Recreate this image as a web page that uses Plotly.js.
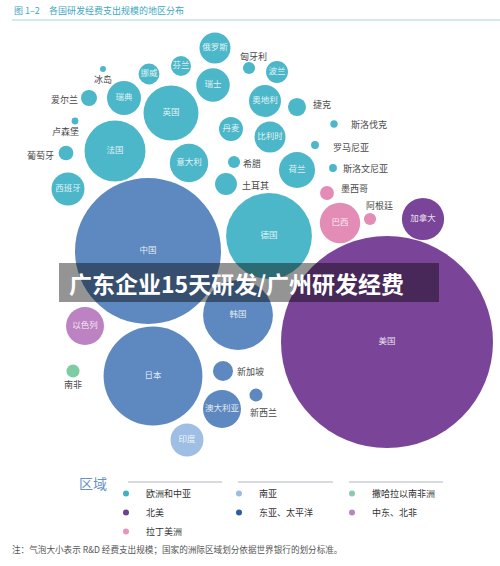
<!DOCTYPE html>
<html>
<head>
<meta charset="utf-8">
<script src="https://cdn.plot.ly/plotly-3.0.1.min.js"></script>
<style>
html,body{margin:0;padding:0;background:#fff;}
#chart{width:500px;height:566px;}
</style>
</head>
<body>
<div id="chart"></div>
<script>
// ---------------- DATA ----------------
const countries = ['美国','中国','日本','德国','韩国','法国','英国','加拿大','巴西','意大利',
  '以色列','澳大利亚','荷兰','瑞典','西班牙','印度','瑞士','奥地利','俄罗斯','比利时',
  '丹麦','波兰','挪威','芬兰','土耳其','新加坡','捷克','爱尔兰','葡萄牙','墨西哥',
  '新西兰','南非','阿根廷','匈牙利','希腊','斯洛伐克','罗马尼亚','斯洛文尼亚','卢森堡','冰岛'];
const countryRegion = ['na','eap','eap','eca','eap','eca','eca','na','lac','eca',
  'mena','eap','eca','eca','eca','sa','eca','eca','eca','eca',
  'eca','eca','eca','eca','eca','eap','eca','eca','eca','lac',
  'eap','ssa','lac','eca','eca','eca','eca','eca','eca','eca'];
// R&D expenditure (relative scale)
const rdSpend = [580,275,126,95,63,48,39,23,21,19,
  18.6,18.6,16.7,14.9,14,14,14.5,13.2,12.4,12.4,
  7.4,6.2,5.6,5.2,6.2,5.2,4.2,3.3,2.8,2.5,
  2.2,2.2,1.9,1.9,1.9,0.7,0.8,0.8,0.6,0.45];
// packed-bubble layout positions
const posX = [387,148,153,269,238,115,171,423,340,189,
  85,222,297,124,68,187,213,265,215,270,
  231,277,149,181,226,223,297,89,66,327,
  256,73,370,249,234,334,315,333,75,103];
const posY = [342,251,376,236,315,151,113,219,223,163,
  326,409,170,98,189,440,85,101,48,137,
  129,72,74,66,184,371,107,98,153,193,
  395,371,219,68,162,124,145,168,121,69];

const regionKeys   = ['eca','sa','ssa','na','eap','mena','lac'];
const regionNames  = ['欧洲和中亚','南亚','撒哈拉以南非洲','北美','东亚、太平洋','中东、北非','拉丁美洲'];
const bubbleColors = ['#4cb7c9','#9ebfe3','#7dcca3','#7a4599','#5d89c0','#bd82c2','#e38cb6'];
const legendColors = ['#3fb1c3','#9dbde0','#8ccab0','#6e3f92','#2d5ca6','#b586bf','#e397bd'];

// labels drawn outside small bubbles: [anchor, dx, dy]
const outerLabels = {
  '冰岛':['center',0,10], '爱尔兰':['right',-9.5,1], '卢森堡':['center',-10,10],
  '葡萄牙':['right',-10.5,2], '匈牙利':['center',4,-12], '捷克':['left',14,-3],
  '斯洛伐克':['left',15,0], '罗马尼亚':['left',16,2], '斯洛文尼亚':['left',8,0],
  '希腊':['left',7,1], '土耳其':['left',14,1], '墨西哥':['left',12,-5],
  '阿根廷':['center',9.5,-14], '南非':['center',0,13], '新加坡':['left',12,0],
  '新西兰':['center',7.5,17]
};

// ---------------- STYLE ----------------
const FONT = '"Noto Sans CJK SC", "Noto Sans", sans-serif';
const W = 500, H = 566, ML = 60, MR = 60;
const MAX_R = 106;
const sizeref = Math.max(...rdSpend) / (2 * MAX_R * MAX_R);
const px = x => (x - ML) / (W - ML - MR);
const py = y => 1 - y / H;

const traces = [];
regionKeys.forEach((key, ri) => {
  const idx = countries.map((c, i) => i).filter(i => countryRegion[i] === key);
  traces.push({
    type: 'scatter', mode: 'markers+text',
    x: idx.map(i => posX[i]), y: idx.map(i => posY[i]),
    text: idx.map(i => outerLabels[countries[i]] ? '' : countries[i]),
    textposition: 'middle center',
    textfont: {family: FONT, size: 8.5, color: 'rgba(255,255,255,0.85)'},
    marker: {size: idx.map(i => rdSpend[i]), sizemode: 'area', sizeref: sizeref,
             color: bubbleColors[ri], opacity: 1, line: {width: 0}},
    cliponaxis: false, showlegend: false, hoverinfo: 'text', name: regionNames[ri]
  });
});
regionKeys.forEach((key, ri) => {
  traces.push({
    type: 'scatter', mode: 'markers', x: [null], y: [null],
    name: regionNames[ri], showlegend: true,
    marker: {size: 6, color: legendColors[ri]}
  });
});

const annotations = [];
countries.forEach((c, i) => {
  const o = outerLabels[c];
  if (!o) return;
  annotations.push({
    xref: 'x', yref: 'y', x: posX[i], y: posY[i], text: c, showarrow: false,
    xanchor: o[0], yanchor: 'middle', xshift: o[1], yshift: -o[2],
    font: {family: FONT, size: 9, color: '#4a4a4a'}
  });
});
// title
annotations.push({xref:'paper',yref:'paper',x:px(12),y:py(10),xanchor:'left',yanchor:'middle',
  text:'图 1–2',showarrow:false,font:{family:FONT,size:9,color:'#3ea7c2'}});
annotations.push({xref:'paper',yref:'paper',x:px(47),y:py(10),xanchor:'left',yanchor:'middle',
  text:'各国研发经费支出规模的地区分布',showarrow:false,font:{family:FONT,size:9,color:'#3ea7c2'}});
// legend heading
annotations.push({xref:'paper',yref:'paper',x:px(93),y:py(483),xanchor:'center',yanchor:'middle',
  text:'区域',showarrow:false,font:{family:FONT,size:14,color:'#6a8fc5'}});
// footnote
annotations.push({xref:'paper',yref:'paper',x:px(10),y:py(549),xanchor:'left',yanchor:'middle',
  text:'注：气泡大小表示 R&D 经费支出规模；国家的洲际区域划分依据世界银行的划分标准。',
  showarrow:false,font:{family:FONT,size:8.6,color:'#555'}});
// banner text
annotations.push({xref:'paper',yref:'paper',x:px(67),y:py(283),xanchor:'left',yanchor:'middle',
  text:'<b>广东企业15天研发/广州研发经费</b>',showarrow:false,font:{family:FONT,size:23,color:'#ffffff'}});

const shapes = [
  {type:'line',xref:'paper',yref:'paper',x0:px(12),x1:px(500),y0:py(20),y1:py(20),line:{color:'#a6d7e0',width:1}},
  {type:'line',xref:'paper',yref:'paper',x0:px(128),x1:px(222),y0:py(482),y1:py(482),line:{color:'#b4b6bd',width:1.2}},
  {type:'line',xref:'paper',yref:'paper',x0:px(238),x1:px(333),y0:py(482),y1:py(482),line:{color:'#b4b6bd',width:1.2}},
  {type:'line',xref:'paper',yref:'paper',x0:px(349),x1:px(443),y0:py(482),y1:py(482),line:{color:'#b4b6bd',width:1.2}},
  {type:'rect',xref:'paper',yref:'paper',x0:px(59),x1:px(439),y0:py(263),y1:py(302),
   fillcolor:'rgba(0,0,0,0.42)',line:{width:0},layer:'above'}
];

const layout = {
  width: W, height: H,
  margin: {l: ML, r: MR, t: 0, b: 0, pad: 0},
  paper_bgcolor: '#ffffff', plot_bgcolor: 'rgba(0,0,0,0)',
  xaxis: {range: [ML, W - MR], visible: false, fixedrange: true},
  yaxis: {range: [H, 0], visible: false, fixedrange: true},
  showlegend: true,
  legend: {orientation: 'h', x: px(106), y: py(479), xanchor: 'left', yanchor: 'top',
    entrywidth: 68, entrywidthmode: 'pixels', traceorder: 'normal',
    font: {family: FONT, size: 9, color: '#333'}, bgcolor: 'rgba(0,0,0,0)'},
  annotations: annotations,
  shapes: shapes,
  hovermode: false
};

Plotly.newPlot('chart', traces, layout, {displayModeBar: false, staticPlot: true});
</script>
</body>
</html>
